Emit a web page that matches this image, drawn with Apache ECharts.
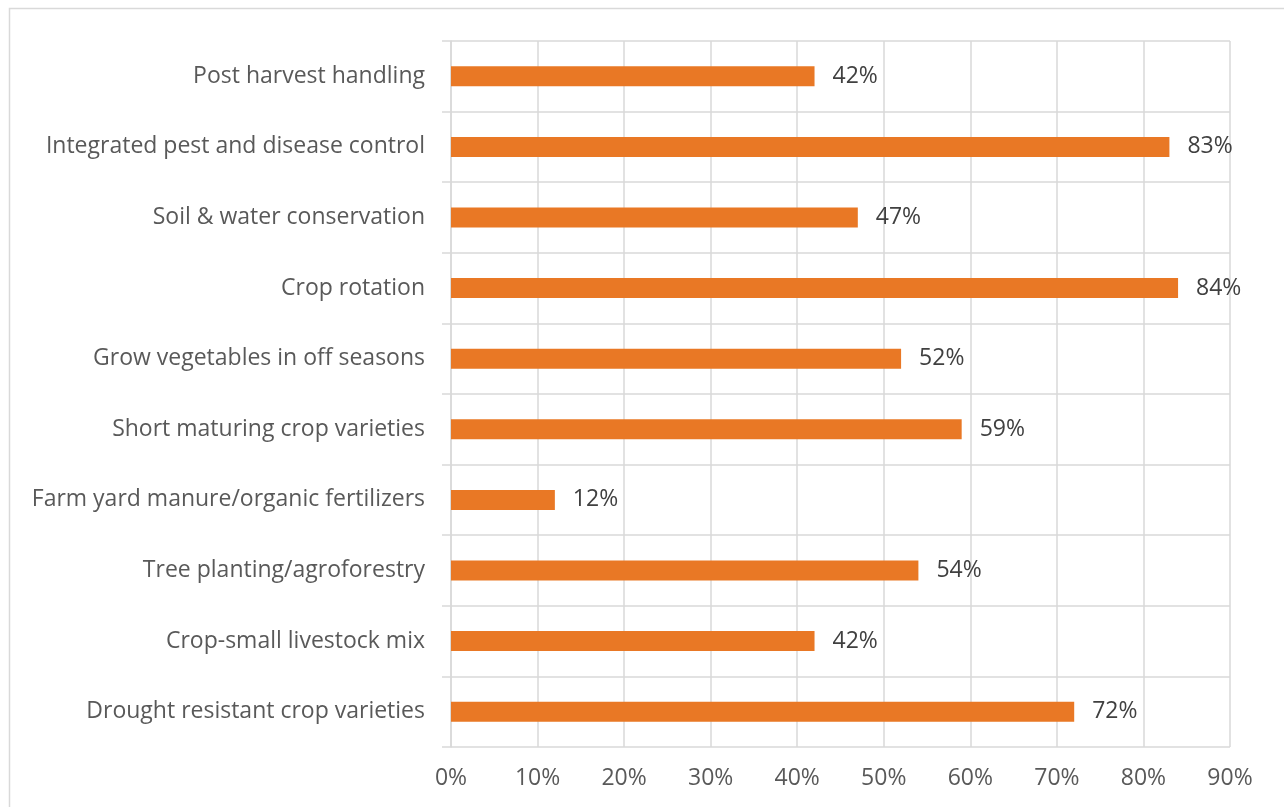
<!DOCTYPE html>
<html>
<head>
<meta charset="utf-8">
<script src="https://cdn.jsdelivr.net/npm/echarts@6/dist/echarts.min.js"></script>
<style>
  html, body { margin: 0; padding: 0; background: #ffffff; }
  #chart { width: 1284px; height: 807px; }
</style>
</head>
<body>
<div id="chart"></div>
<script>
// Practices, listed top to bottom
const categories = [
  'Post harvest handling',
  'Integrated pest and disease control',
  'Soil & water conservation',
  'Crop rotation',
  'Grow vegetables in off seasons',
  'Short maturing crop varieties',
  'Farm yard manure/organic fertilizers',
  'Tree planting/agroforestry',
  'Crop-small livestock mix',
  'Drought resistant crop varieties'
];
// Share of respondents (%)
const values = [42, 83, 47, 84, 52, 59, 12, 54, 42, 72];
// Value axis ticks (%)
const xTicks = [0, 10, 20, 30, 40, 50, 60, 70, 80, 90];

const FONT = 'Open Sans';
const TEXT = '#595959';
const GRID = '#d9d9d9';

const chart = echarts.init(document.getElementById('chart'), null, { renderer: 'canvas' });
chart.setOption({
  backgroundColor: '#ffffff',
  animation: false,
  textStyle: { fontFamily: FONT },
  graphic: [{
    type: 'rect',
    shape: { x: 9.5, y: 8.5, width: 1400, height: 900 },
    style: { fill: 'none', stroke: GRID, lineWidth: 1.5 },
    silent: true
  }],
  grid: { left: 451, right: 54, top: 41, bottom: 60, containLabel: false },
  xAxis: {
    type: 'value',
    min: xTicks[0],
    max: xTicks[xTicks.length - 1],
    interval: 10,
    axisLine: { show: false },
    axisTick: { show: false },
    splitLine: { show: true, lineStyle: { color: GRID, width: 1.5 } },
    axisLabel: {
      formatter: '{value}%',
      color: TEXT,
      fontSize: 23,
      fontFamily: FONT,
      margin: 20
    }
  },
  yAxis: {
    type: 'category',
    inverse: true,
    data: categories,
    axisLine: { show: true, lineStyle: { color: GRID, width: 1.5 } },
    axisTick: { show: true, length: 9, interval: 0, lineStyle: { color: GRID, width: 1.5 } },
    splitLine: { show: true, interval: 0, lineStyle: { color: GRID, width: 1.5 } },
    axisLabel: {
      color: TEXT,
      fontSize: 23,
      fontFamily: FONT,
      margin: 26,
      interval: 0
    }
  },
  series: [{
    type: 'bar',
    data: values,
    barWidth: 20,
    itemStyle: { color: '#e97825' },
    label: {
      show: true,
      position: 'right',
      distance: 18,
      formatter: '{c}%',
      color: '#404040',
      fontSize: 23,
      fontFamily: FONT
    }
  }]
});
</script>
</body>
</html>
